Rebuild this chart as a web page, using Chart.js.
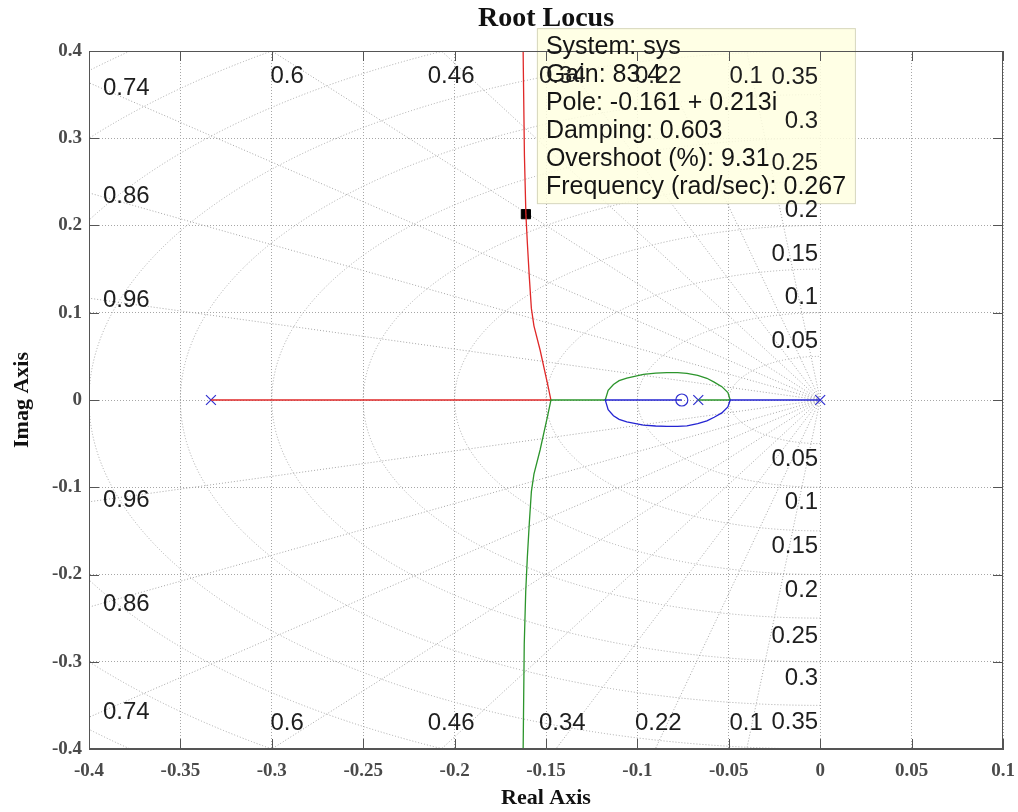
<!DOCTYPE html>
<html>
<head>
<meta charset="utf-8">
<title>Root Locus</title>
<script src="https://cdn.jsdelivr.net/npm/chart.js@4.4.1/dist/chart.umd.min.js"></script>
<style>
  html, body { margin: 0; padding: 0; background: #fff; }
  #wrap { width: 1018px; height: 812px; }
</style>
</head>
<body>
<div id="wrap"><canvas id="rlocus" width="1018" height="812"></canvas></div>
<script>
// axis ticks
const realTicks = [-0.4, -0.35, -0.3, -0.25, -0.2, -0.15, -0.1, -0.05, 0, 0.05, 0.1];
const realTickLabels = ['-0.4', '-0.35', '-0.3', '-0.25', '-0.2', '-0.15', '-0.1', '-0.05', '0', '0.05', '0.1'];
const imagTicks = [-0.4, -0.3, -0.2, -0.1, 0, 0.1, 0.2, 0.3, 0.4];
const imagTickLabels = ['-0.4', '-0.3', '-0.2', '-0.1', '0', '0.1', '0.2', '0.3', '0.4'];

// open loop poles and zero
const poleRe = [-0.3333, -0.0667, 0];
const poleIm = [0, 0, 0];
const zeroRe = [-0.0757];
const zeroIm = [0];

// branch leaving the pole at -1/3 (red)
const redRe = [-0.3333, -0.1473, -0.1490, -0.1532, -0.1566, -0.1580, -0.1591, -0.1602, -0.1610, -0.1618, -0.1624, -0.1628];
const redIm = [0, 0, 0.017, 0.057, 0.085, 0.105, 0.14, 0.18, 0.213, 0.28, 0.38, 0.46];

// branch leaving the pole at -0.0667 (green)
const greenRe = [-0.0667, -0.0492, -0.0505, -0.0538, -0.0580, -0.0620, -0.0670, -0.0729, -0.0780, -0.0839,
  -0.0900, -0.0967, -0.1058, -0.1100, -0.1131, -0.1160, -0.1176, -0.1473, -0.1490, -0.1532, -0.1566,
  -0.1580, -0.1591, -0.1602, -0.1611, -0.1619, -0.1624, -0.1628];
const greenIm = [0, 0, 0.0085, 0.0153, 0.0205, 0.0249, 0.0282, 0.0306, 0.0313, 0.0313,
  0.0307, 0.0294, 0.0252, 0.0222, 0.0178, 0.0110, 0, 0, -0.017, -0.057, -0.085,
  -0.105, -0.14, -0.18, -0.22, -0.28, -0.38, -0.46];

// branch leaving the pole at the origin (blue), ends in the zero
const blueRe = [0, -0.0492, -0.0505, -0.0538, -0.0580, -0.0620, -0.0670, -0.0729, -0.0780, -0.0839,
  -0.0900, -0.0967, -0.1058, -0.1100, -0.1131, -0.1160, -0.1176, -0.0757];
const blueIm = [0, 0, -0.0080, -0.0148, -0.0198, -0.0240, -0.0272, -0.0296, -0.0303, -0.0303,
  -0.0298, -0.0287, -0.0250, -0.0222, -0.0180, -0.0112, 0, 0];

// data cursor
const cursorRe = [-0.161];
const cursorIm = [0.213];
const tipLines = ['System: sys', 'Gain: 83.4', 'Pole: -0.161 + 0.213i', 'Damping: 0.603',
  'Overshoot (%): 9.31', 'Frequency (rad/sec): 0.267'];

// sgrid: damping rays and natural frequency circles
const sgridDamping = [0.1, 0.22, 0.34, 0.46, 0.6, 0.74, 0.86, 0.96];
const sgridFreq = [0.05, 0.1, 0.15, 0.2, 0.25, 0.3, 0.35, 0.4, 0.45, 0.5, 0.55];

// where the sgrid labels sit (data units)
const dampTopText = ['0.6', '0.46', '0.34', '0.22', '0.1'];
const dampTopRe = [-0.2916, -0.2019, -0.1411, -0.0886, -0.0405];
const dampTopIm = [0.371, 0.371, 0.371, 0.371, 0.371];
const dampSideText = ['0.74', '0.86', '0.96'];
const dampSideRe = [-0.3796, -0.3796, -0.3796];
const dampSideIm = [0.3576, 0.2338, 0.1146];
const freqText = ['0.05', '0.1', '0.15', '0.2', '0.25', '0.3', '0.35'];
const freqRe = [-0.0011, -0.0011, -0.0011, -0.0011, -0.0011, -0.0011, -0.0011];
const freqIm = [0.0676, 0.1175, 0.1673, 0.2178, 0.271, 0.319, 0.370];

const gridColor = '#a6a6a6';
const pts = (re, im) => re.map((v, i) => ({ x: v, y: im[i] }));

const sgrid = {
  id: 'sgrid',
  beforeDatasetsDraw(chart) {
    const { ctx, chartArea: a, scales: { x, y } } = chart;
    const ox = x.getPixelForValue(0), oy = y.getPixelForValue(0);
    const kx = x.getPixelForValue(1) - ox, ky = oy - y.getPixelForValue(1);
    ctx.save();
    ctx.beginPath();
    ctx.rect(a.left, a.top, a.width, a.height);
    ctx.clip();
    ctx.strokeStyle = gridColor;
    ctx.lineWidth = 1;
    ctx.setLineDash([1, 2]);
    sgridDamping.forEach(z => {
      const w = Math.sqrt(1 - z * z);
      ctx.beginPath();
      ctx.moveTo(ox, oy);
      ctx.lineTo(ox - z * kx, oy - w * ky);
      ctx.moveTo(ox, oy);
      ctx.lineTo(ox - z * kx, oy + w * ky);
      ctx.stroke();
    });
    sgridFreq.forEach(wn => {
      ctx.beginPath();
      ctx.ellipse(ox, oy, wn * kx, wn * ky, 0, Math.PI / 2, Math.PI * 1.5);
      ctx.stroke();
    });
    ctx.restore();

    // data tip box, sits up and right of the cursor
    const px = x.getPixelForValue(cursorRe[0]), py = y.getPixelForValue(cursorIm[0]);
    ctx.save();
    ctx.fillStyle = 'rgba(255, 255, 225, 0.85)';
    ctx.strokeStyle = '#d6d6bc';
    ctx.fillRect(px + 11, py - 186, 318, 175);
    ctx.strokeRect(px + 11.5, py - 185.5, 318, 175);
    ctx.restore();
  },
  afterDraw(chart) {
    const { ctx, chartArea: a, scales: { x, y } } = chart;
    ctx.save();
    // box and inward ticks
    ctx.strokeStyle = '#555';
    ctx.lineWidth = 1;
    ctx.strokeRect(a.left + 0.5, a.top + 0.5, a.width - 1, a.height - 1);
    ctx.beginPath();
    x.ticks.forEach(t => {
      const p = Math.round(x.getPixelForValue(t.value)) + 0.5;
      ctx.moveTo(p, a.bottom); ctx.lineTo(p, a.bottom - 10);
      ctx.moveTo(p, a.top); ctx.lineTo(p, a.top + 10);
    });
    y.ticks.forEach(t => {
      const p = Math.round(y.getPixelForValue(t.value)) + 0.5;
      ctx.moveTo(a.left, p); ctx.lineTo(a.left + 10, p);
      ctx.moveTo(a.right, p); ctx.lineTo(a.right - 10, p);
    });
    ctx.stroke();

    // data tip text
    const px = x.getPixelForValue(cursorRe[0]), py = y.getPixelForValue(cursorIm[0]);
    ctx.fillStyle = '#151515';
    ctx.font = '25px "Liberation Sans", Arial, sans-serif';
    ctx.textBaseline = 'middle';
    ctx.textAlign = 'left';
    tipLines.forEach((s, i) => ctx.fillText(s, px + 20, py - 167 + i * 28));

    // sgrid labels
    ctx.fillStyle = '#1e1e1e';
    ctx.font = '24px "Liberation Sans", Arial, sans-serif';
    ctx.textAlign = 'center';
    dampTopText.forEach((s, i) => {
      ctx.fillText(s, x.getPixelForValue(dampTopRe[i]), y.getPixelForValue(dampTopIm[i]));
      ctx.fillText(s, x.getPixelForValue(dampTopRe[i]), y.getPixelForValue(-dampTopIm[i]));
    });
    dampSideText.forEach((s, i) => {
      ctx.fillText(s, x.getPixelForValue(dampSideRe[i]), y.getPixelForValue(dampSideIm[i]));
      ctx.fillText(s, x.getPixelForValue(dampSideRe[i]), y.getPixelForValue(-dampSideIm[i]));
    });
    ctx.textAlign = 'right';
    freqText.forEach((s, i) => {
      ctx.fillText(s, x.getPixelForValue(freqRe[i]), y.getPixelForValue(freqIm[i]));
      ctx.fillText(s, x.getPixelForValue(freqRe[i]), y.getPixelForValue(-freqIm[i]));
    });

    // title over the axes
    ctx.fillStyle = '#111';
    ctx.font = 'bold 28px "Liberation Serif", "Times New Roman", serif';
    ctx.textAlign = 'center';
    ctx.fillText('Root Locus', (a.left + a.right) / 2, 19);
    ctx.restore();
  }
};

const tickFont = { family: '"Liberation Serif", "Times New Roman", serif', size: 19, weight: 'bold' };
const titleFont = { family: '"Liberation Serif", "Times New Roman", serif', size: 22, weight: 'bold' };

new Chart(document.getElementById('rlocus'), {
  type: 'scatter',
  data: {
    datasets: [
      { data: pts(blueRe, blueIm), showLine: true, borderColor: '#2424d2', borderWidth: 1.3, pointRadius: 0 },
      { data: pts(greenRe, greenIm), showLine: true, borderColor: '#2c952c', borderWidth: 1.3, pointRadius: 0 },
      { data: pts(redRe, redIm), showLine: true, borderColor: '#e02828', borderWidth: 1.3, pointRadius: 0 },
      { data: pts(poleRe, poleIm), pointStyle: 'crossRot', pointRadius: 7, borderColor: '#3030d0', borderWidth: 1.2 },
      { data: pts(zeroRe, zeroIm), pointStyle: 'circle', pointRadius: 6, borderColor: '#3030d0', backgroundColor: 'rgba(0,0,0,0)', borderWidth: 1.2 },
      { data: pts(cursorRe, cursorIm), pointStyle: 'rect', pointRadius: 6.5, borderColor: '#000', backgroundColor: '#000', borderWidth: 1 }
    ]
  },
  options: {
    responsive: false,
    animation: false,
    devicePixelRatio: 1,
    events: [],
    layout: { padding: { top: 51, left: 0, right: 0, bottom: 0 } },
    plugins: { legend: { display: false }, tooltip: { enabled: false }, title: { display: false } },
    scales: {
      x: {
        type: 'linear', min: -0.4, max: 0.1,
        afterBuildTicks: s => { s.ticks = realTicks.map(v => ({ value: v })); },
        afterFit: s => { s.height = 63; s.paddingRight = 15; s.paddingLeft = 0; },
        ticks: { callback: (v, i) => realTickLabels[i], font: tickFont, color: '#4a4a4a', padding: 11, maxRotation: 0, autoSkip: false },
        grid: { color: gridColor, drawTicks: false },
        border: { dash: [1, 2], color: '#555' },
        title: { display: true, text: 'Real Axis', font: titleFont, color: '#111', padding: { top: 0, bottom: 0 } }
      },
      y: {
        type: 'linear', min: -0.4, max: 0.4,
        afterBuildTicks: s => { s.ticks = imagTicks.map(v => ({ value: v })); },
        afterFit: s => { s.width = 89; },
        ticks: { callback: (v, i) => imagTickLabels[i], font: tickFont, color: '#4a4a4a', padding: 7, autoSkip: false },
        grid: { color: gridColor, drawTicks: false },
        border: { dash: [1, 2], color: '#555' },
        title: { display: true, text: 'Imag Axis', font: titleFont, color: '#111', padding: { top: 9, bottom: 0 } }
      }
    }
  },
  plugins: [sgrid]
});
</script>
</body>
</html>
